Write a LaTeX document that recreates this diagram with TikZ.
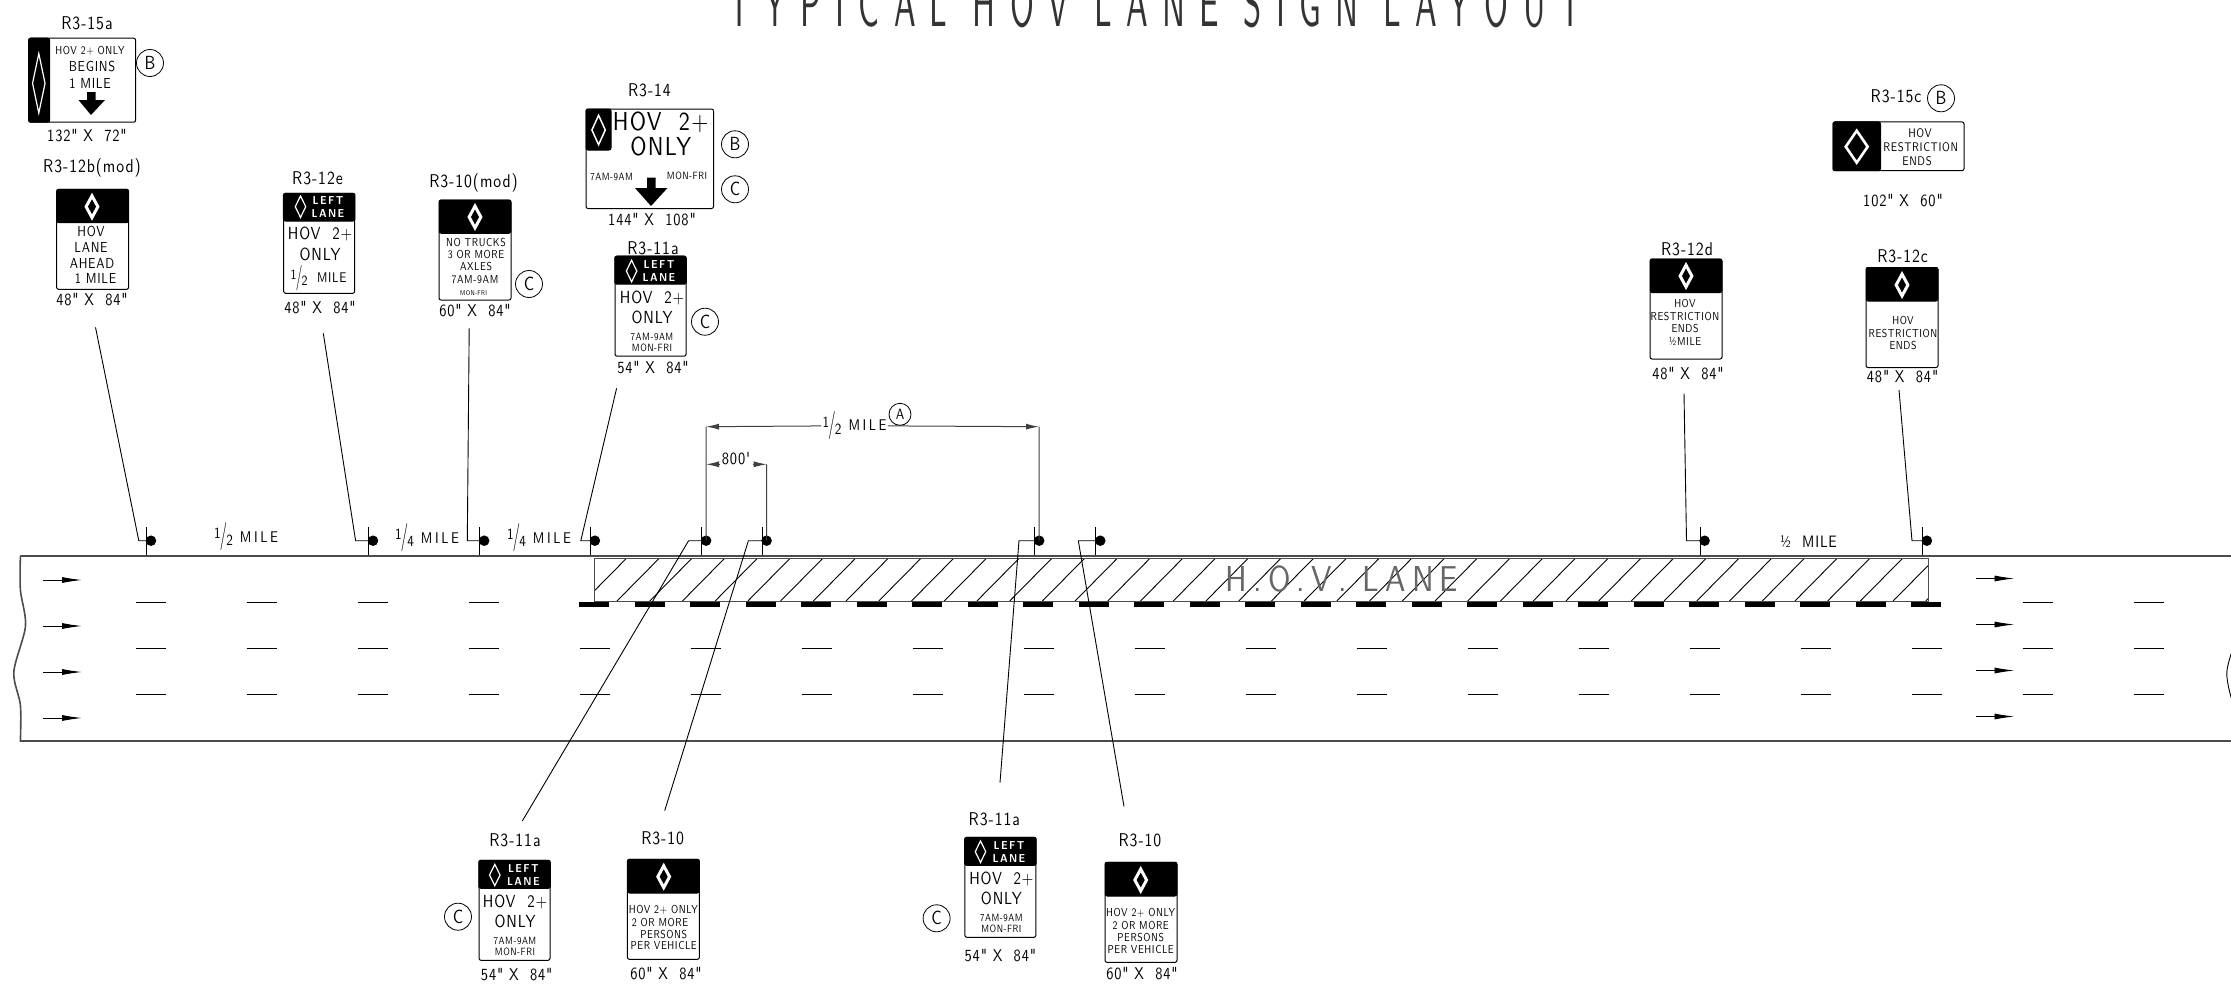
\documentclass[tikz,border=0pt]{standalone}
\usepackage{fontspec}
\usepackage{graphicx}
\usetikzlibrary{arrows.meta}
\usetikzlibrary{shapes.geometric}
\newfontfamily\cadfont[FakeStretch=.85,LetterSpace=5]{lmsans10-regular.otf}
\newfontfamily\cadwide[FakeStretch=.85,LetterSpace=17]{lmsans10-regular.otf}
\newfontfamily\cadbold[FakeStretch=.9,LetterSpace=12]{lmsans10-bold.otf}
\newfontfamily\titlefont[FakeStretch=.5,LetterSpace=22]{lmsans10-regular.otf}
\newcommand{\cadfrac}[2]{\raisebox{.5ex}{#1}\kern-.05em\raisebox{-.25ex}{\scalebox{1.1}[1.8]{/}}\kern-.05em\raisebox{-.5ex}{#2}}
\tikzset{
	cad/.style={font=\fontsize{#1}{#1}\selectfont\cadfont, inner sep=0pt},
	wide/.style={font=\fontsize{#1}{#1}\selectfont\cadwide, inner sep=0pt},
	signtag/.style={cad=18.5},
	sizetag/.style={cad=17},
	lanetag/.style={font=\fontsize{11.5}{11.5}\selectfont\cadbold, text=white, inner sep=0pt},
	signbox/.style n args={2}{draw, line width=1pt, rounded corners=2pt, fill=white, inner sep=0pt, minimum width=#1pt, minimum height=#2pt},
	signband/.style n args={2}{draw, fill=black, line width=1pt, rounded corners=2pt, inner sep=0pt, minimum width=#1pt, minimum height=#2pt},
	signhead/.style={signband={71.5}{#1}, anchor=north},
	hovdiam/.style n args={3}{shape=diamond, draw=white, fill=black, inner sep=0pt, line width=#3pt, minimum width=#1pt, minimum height=#2pt},
	marker/.style={shape=circle, draw, line width=.8pt, minimum size=27pt, cad=19},
	postdot/.style={shape=circle, fill=black, inner sep=0pt, minimum size=10.5pt},
	roadline/.style={draw=black!70, line width=1.6pt},
	thinline/.style={line width=.9pt},
	dimline/.style={draw=black!75, line width=1pt},
	dimtip/.style={-{Latex[length=13pt,width=6pt]}},
	roadtip/.style={-{Latex[length=20pt,width=6pt]}}
}
\begin{document}
\begin{tikzpicture}[x=1pt,y=-1pt]
	\clip (0,0) rectangle (2231,988);
	\node [font=\fontsize{65}{65}\selectfont\titlefont, text=black!80, inner sep=0pt, anchor=base] (title) at (1155,26) {TYPICAL HOV LANE SIGN LAYOUT};

	\draw [roadline] (2240,556) -- (20.4,556) plot [smooth] coordinates {(20.4,556) (20.4,590) (25.5,626) (13.8,672) (20.4,705) (20.4,741)} -- (2240,741);
	\draw [thinline] plot [smooth] coordinates {(2233.4,590) (2238.5,626) (2226.8,672) (2233.4,705)};
	\begin{scope}
		\clip (594.4,558) rectangle (1928,601);
		\foreach \i in {-1,...,40}
			\draw [thinline] ({617+32.72*\i},601) -- ({659.5+32.72*\i},558);
	\end{scope}
	\draw [draw=black!70, line width=1pt] (594.4,558) rectangle (1928,601);
	\node [font=\fontsize{36}{36}\selectfont\cadwide, text=black!60, inner sep=0pt] (hovlane) at (1342,579) {H.O.V.\ LANE};
	\foreach \i in {0,...,24}
		\fill ({579+55.5*\i},602) rectangle ({609+55.5*\i},606.6);
	\foreach \i in {0,1,2,3,17,18}
		\draw [thinline] ({135.7+111*\i},602.3) -- ({165.7+111*\i},602.3);
	\foreach \i in {0,...,18} {
		\draw [thinline] ({135.7+111*\i},648.3) -- ({165.7+111*\i},648.3);
		\draw [thinline] ({135.7+111*\i},694.7) -- ({165.7+111*\i},694.7);
	}
	\foreach \y in {580,626,672,718} {
		\draw [thinline, roadtip] (43,\y) -- (82,\y);
		\draw [thinline, roadtip] (1976,\y-1.5) -- (2014.5,\y-1.5);
	}

	\foreach \n/\x/\ex/\fx/\fy in {A/146.4/138.8/95.5/327.3, B/368.4/355.6/323.3/333.3, C/479.6/467.3/469.2/328.3, D/590.3/580.8/616.6/388.3, E/701.5/688.6/522.3/821, F/762/748.4/664.7/810.7, G/1034.6/1019/1000/782.6, H/1095.7/1078.3/1124/806.5, I/1700/1686.5/1684/393.3, J/1922.3/1912/1899/390} {
		\node [postdot] (dot\n) at (\x+4.6,540.7) {};
		\coordinate (top\n) at (\x,527);
		\coordinate (foot\n) at (\x,555);
		\coordinate (elbow\n) at (\ex,540.7);
		\coordinate (far\n) at (\fx,\fy);
		\draw [thinline] (top\n) -- (foot\n);
		\draw [thinline] (far\n) -- (elbow\n) -- (\x,540.7);
	}

	\node [wide=15.5] (gapAB) at (246,537) {\cadfrac{1}{2} MILE};
	\node [wide=15.5] (gapBC) at (427,538) {\cadfrac{1}{4} MILE};
	\node [wide=15.5] (gapCD) at (539,538) {\cadfrac{1}{4} MILE};
	\node [cad=16.5] (gapIJ) at (1808.5,541.7) {½\ \ MILE};

	\coordinate (mileL) at (706,426.7);
	\coordinate (mileR) at (1039,426.7);
	\coordinate (shortL) at (706,464.3);
	\coordinate (shortR) at (766.7,464.3);
	\draw [dimline] (dotE.center) -- (mileL);
	\draw [dimline] (dotF.center) -- (shortR);
	\draw [dimline] (dotG.center) -- (mileR);
	\node [wide=15.5, fill=white, inner xsep=1pt] (mileTxt) at (854.6,425.7) {\cadfrac{1}{2} MILE};
	\draw [dimline, dimtip] (mileTxt) -- (mileL);
	\draw [dimline, dimtip] (mileTxt) -- (mileR);
	\node [cad=17] (shortTxt) at (736,458.3) {800'};
	\draw [dimline, dimtip] (719,464.3) -- (shortL);
	\draw [dimline, dimtip] (753,464.3) -- (shortR);
	\node [marker, minimum size=22pt, cad=15, fill=white] (noteA) at (900,414.3) {A};

	\node [signtag] (tagA) at (87,23) {R3-15a};
	\node [signbox={107}{84}] (signA) at (82.15,80.2) {};
	\node [signband={21}{84}, anchor=west] (bandA) at (signA.west) {};
	\node [hovdiam={13}{60}{1.2}] (diamA) at (38.8,83.3) {};
	\node [cad=11.5] (textA1) at (90,51) {HOV 2+ ONLY};
	\node [cad=14.5] (textA2) at (92,66.7) {BEGINS};
	\node [cad=14.5] (textA3) at (90,83.5) {1 MILE};
	\fill (87,92) -- (95.5,92) -- (95.5,100) -- (105,100) -- (91,115) -- (78.5,100) -- (87,100) -- cycle;
	\node [marker] (noteAB) at (150,63) {B};
	\node [sizetag] (sizeA) at (87,136) {132"\ X\ \ 72"};

	\node [signtag] (tagB) at (92,167.7) {R3-12b(mod)};
	\node [signbox={72}{100}] (signB) at (92.6,239.3) {};
	\node [signhead=33.4] (headB) at (signB.north) {};
	\node [hovdiam={13}{23}{3}] (diamB) at (92,206.7) {};
	\node [cad=14.5] (textB1) at (91,231.7) {HOV};
	\node [cad=14.5] (textB2) at (91,247.3) {LANE};
	\node [cad=14.5] (textB3) at (92,263) {AHEAD};
	\node [cad=14.5] (textB4) at (95.5,278.7) {1 MILE};
	\node [sizetag] (sizeB) at (92,300) {48"\ X\ \ 84"};

	\node [signtag] (tagC) at (317.5,178) {R3-12e};
	\node [signbox={71}{100}] (signC) at (319.2,243.3) {};
	\node [signhead=27.7] (headC) at (signC.north) {};
	\node [hovdiam={11}{22}{1.2}] (diamC) at (300.5,206.7) {};
	\node [lanetag] (textC1) at (328,201) {LEFT};
	\node [lanetag] (textC2) at (328,214) {LANE};
	\node [cad=17.5] (textC3) at (320,234.3) {HOV\ \ 2+};
	\node [cad=17.5] (textC4) at (320,254.3) {ONLY};
	\node [cad=14] (textC5) at (318.5,277.7) {\cadfrac{1}{2}\ \ MILE};
	\node [sizetag] (sizeC) at (320,307.3) {48"\ X\ \ 84"};

	\node [signtag] (tagD) at (473.6,183) {R3-10(mod)};
	\node [signbox={72}{100}] (signD) at (475,250) {};
	\node [signhead=33.3] (headD) at (signD.north) {};
	\node [hovdiam={13}{23}{3}] (diamD) at (475,217) {};
	\node [cad=11.5] (textD1) at (476,243) {NO TRUCKS};
	\node [cad=11.5] (textD2) at (476,255) {3 OR MORE};
	\node [cad=11.5] (textD3) at (476,266.7) {AXLES};
	\node [cad=11.5] (textD4) at (475,279.7) {7AM-9AM};
	\node [cad=7] (textD5) at (473.6,293) {MON-FRI};
	\node [marker] (noteDC) at (529,284) {C};
	\node [sizetag] (sizeD) at (475,310.7) {60"\ X\ \ 84"};

	\node [signtag] (tagE) at (649.5,90) {R3-14};
	\node [signbox={127.5}{99.5}] (signE) at (649.75,158.75) {};
	\node [signband={25}{41}, anchor=north west] (bandE) at (signE.north west) {};
	\node [hovdiam={14}{30}{1.5}] (diamE) at (598.6,130) {};
	\node [cad=26] (textE1) at (660.7,122.7) {HOV\ \ 2+};
	\node [cad=26] (textE2) at (660.7,146.7) {ONLY};
	\node [cad=10.5] (textE3) at (611.7,176.7) {7AM-9AM};
	\node [cad=10.5] (textE4) at (687,176) {MON-FRI};
	\fill (647,177.7) -- (655.5,177.7) -- (655.5,188) -- (667.5,188) -- (651,206) -- (635,188) -- (647,188) -- cycle;
	\node [marker] (noteEB) at (735,144.3) {B};
	\node [marker] (noteEC) at (735,189.3) {C};
	\node [sizetag] (sizeE) at (652,219.3) {144"\ X\ \ 108"};

	\node [signtag] (tagF) at (653,248) {R3-11a};
	\node [signbox={71}{100}] (signF) at (650.5,306.2) {};
	\node [signhead=28] (headF) at (signF.north) {};
	\node [hovdiam={11}{22}{1.2}] (diamF) at (631.6,271) {};
	\node [lanetag] (textF1) at (659,264.3) {LEFT};
	\node [lanetag] (textF2) at (659,277.3) {LANE};
	\node [cad=17.5] (textF3) at (652,297.7) {HOV\ \ 2+};
	\node [cad=17.5] (textF4) at (652,317.3) {ONLY};
	\node [cad=10.5] (textF5) at (652,336.7) {7AM-9AM};
	\node [cad=10.5] (textF6) at (652,347.7) {MON-FRI};
	\node [marker] (noteFC) at (705,321.7) {C};
	\node [sizetag] (sizeF) at (653,367.7) {54"\ X\ \ 84"};

	\node [signtag] (tagG) at (1896,96.7) {R3-15c};
	\node [marker] (noteGB) at (1941,98.3) {B};
	\node [signbox={131}{48.7}] (signG) at (1898.5,146.3) {};
	\node [signband={47.5}{48.7}, anchor=west] (bandG) at (signG.west) {};
	\node [hovdiam={23}{33}{2.6}] (diamG) at (1856.7,146.7) {};
	\node [cad=12.5] (textG1) at (1920,133.3) {HOV};
	\node [cad=12.5] (textG2) at (1920.7,147) {RESTRICTION};
	\node [cad=12.5] (textG3) at (1917,161) {ENDS};
	\node [sizetag] (sizeG) at (1903,200.7) {102"\ X\ \ 60"};

	\node [signtag] (tagH) at (1687,249.3) {R3-12d};
	\node [signbox={72}{100}] (signH) at (1686,309) {};
	\node [signhead=33.7] (headH) at (signH.north) {};
	\node [hovdiam={13}{23}{3}] (diamH) at (1686,276) {};
	\node [cad=11.5] (textH1) at (1685,303.7) {HOV};
	\node [cad=11.5] (textH2) at (1685,316.3) {RESTRICTION};
	\node [cad=11.5] (textH3) at (1685,329) {ENDS};
	\node [cad=11.5] (textH4) at (1685,341.7) {½MILE};
	\node [sizetag] (sizeH) at (1688,373.7) {48"\ X\ \ 84"};

	\node [signtag] (tagI) at (1902.6,256) {R3-12c};
	\node [signbox={72}{100}] (signI) at (1902,317.5) {};
	\node [signhead=33.6] (headI) at (signI.north) {};
	\node [hovdiam={13}{23}{3}] (diamI) at (1902,285) {};
	\node [cad=11.5] (textI1) at (1903,320.7) {HOV};
	\node [cad=11.5] (textI2) at (1903,333.3) {RESTRICTION};
	\node [cad=11.5] (textI3) at (1903,345.7) {ENDS};
	\node [sizetag] (sizeI) at (1902.6,376.7) {48"\ X\ \ 84"};

	\node [signtag] (tagJ) at (515,840) {R3-11a};
	\node [signbox={71}{100}] (signJ) at (514.5,910.3) {};
	\node [signhead=28] (headJ) at (signJ.north) {};
	\node [hovdiam={11}{22}{1.2}] (diamJ) at (494.8,875) {};
	\node [lanetag] (textJ1) at (523.4,868.3) {LEFT};
	\node [lanetag] (textJ2) at (523.4,881) {LANE};
	\node [cad=17.5] (textJ3) at (515,901.7) {HOV\ \ 2+};
	\node [cad=17.5] (textJ4) at (515,921) {ONLY};
	\node [cad=10.5] (textJ5) at (515,941) {7AM-9AM};
	\node [cad=10.5] (textJ6) at (515,951.7) {MON-FRI};
	\node [marker] (noteJC) at (458,916.7) {C};
	\node [sizetag] (sizeJ) at (516.7,974.3) {54"\ X\ \ 84"};

	\node [signtag] (tagK) at (662.6,838.3) {R3-10};
	\node [signbox={72}{100}] (signK) at (663.4,909.3) {};
	\node [signhead=33.7] (headK) at (signK.north) {};
	\node [hovdiam={13}{23}{3}] (diamK) at (663.7,876.7) {};
	\node [cad=11.5] (textK1) at (663.4,910) {HOV 2+ ONLY};
	\node [cad=11.5] (textK2) at (660,922.3) {2 OR MORE};
	\node [cad=11.5] (textK3) at (663.7,934) {PERSONS};
	\node [cad=11.5] (textK4) at (663.7,945.7) {PER VEHICLE};
	\node [sizetag] (sizeK) at (666,973.3) {60"\ X\ \ 84"};

	\node [signtag] (tagL) at (994.3,819) {R3-11a};
	\node [signbox={71}{100}] (signL) at (1000.4,887.3) {};
	\node [signhead=28] (headL) at (signL.north) {};
	\node [hovdiam={11}{22}{1.2}] (diamL) at (980.5,851.7) {};
	\node [lanetag] (textL1) at (1009,845) {LEFT};
	\node [lanetag] (textL2) at (1009,858.3) {LANE};
	\node [cad=17.5] (textL3) at (1001.4,879) {HOV\ \ 2+};
	\node [cad=17.5] (textL4) at (1001.4,898.3) {ONLY};
	\node [cad=10.5] (textL5) at (1001.4,918) {7AM-9AM};
	\node [cad=10.5] (textL6) at (1001.4,928.7) {MON-FRI};
	\node [marker] (noteLC) at (936.6,918.3) {C};
	\node [sizetag] (sizeL) at (1000.4,955.7) {54"\ X\ \ 84"};

	\node [signtag] (tagM) at (1140,840.7) {R3-10};
	\node [signbox={72}{100}] (signM) at (1141,912.3) {};
	\node [signhead=33.7] (headM) at (signM.north) {};
	\node [hovdiam={13}{23}{3}] (diamM) at (1140.7,880) {};
	\node [cad=11.5] (textM1) at (1140.7,913.3) {HOV 2+ ONLY};
	\node [cad=11.5] (textM2) at (1140.7,925) {2 OR MORE};
	\node [cad=11.5] (textM3) at (1140.7,937) {PERSONS};
	\node [cad=11.5] (textM4) at (1140.7,949) {PER VEHICLE};
	\node [sizetag] (sizeM) at (1142,973.3) {60"\ X\ \ 84"};
\end{tikzpicture}
\end{document}
